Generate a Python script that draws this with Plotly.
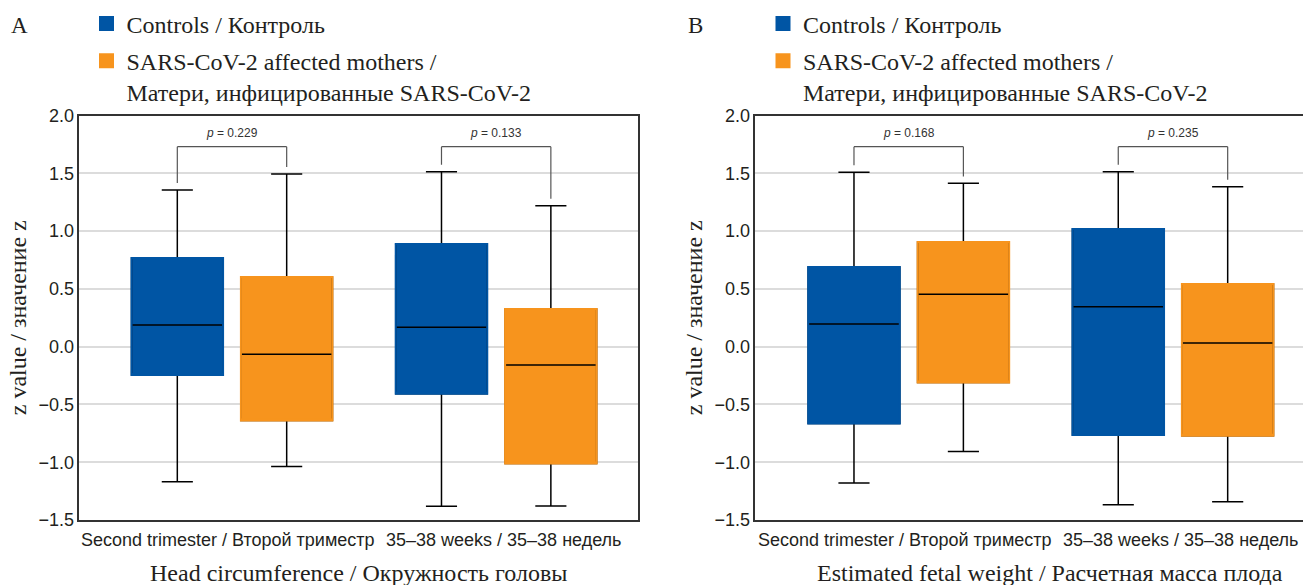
import plotly.graph_objects as go

# ---------------- data ----------------
categories = ["Second trimester / Второй триместр", "35–38 weeks / 35–38 недель"]
series_names = ["Controls / Контроль", "SARS-CoV-2 affected mothers /<br>Матери, инфицированные SARS-CoV-2"]

# Panel A: head circumference (z values)
hc_ctrl_lower = [-1.170, -1.381]
hc_ctrl_q1 = [-0.245, -0.407]
hc_ctrl_median = [0.188, 0.168]
hc_ctrl_q3 = [0.767, 0.888]
hc_ctrl_upper = [1.356, 1.514]

hc_case_lower = [-1.038, -1.378]
hc_case_q1 = [-0.640, -1.012]
hc_case_median = [-0.066, -0.158]
hc_case_q3 = [0.603, 0.326]
hc_case_upper = [1.494, 1.220]

hc_p = ["0.229", "0.133"]

# Panel B: estimated fetal weight (z values)
efw_ctrl_lower = [-1.179, -1.367]
efw_ctrl_q1 = [-0.666, -0.764]
efw_ctrl_median = [0.196, 0.346]
efw_ctrl_q3 = [0.689, 1.018]
efw_ctrl_upper = [1.509, 1.514]

efw_case_lower = [-0.908, -1.343]
efw_case_q1 = [-0.311, -0.772]
efw_case_median = [0.453, 0.032]
efw_case_q3 = [0.906, 0.542]
efw_case_upper = [1.413, 1.384]

efw_p = ["0.168", "0.235"]

y_ticks = [-1.5, -1.0, -0.5, 0.0, 0.5, 1.0, 1.5, 2.0]

# ---------------- style ----------------
BLUE = "#0055A4"
ORANGE = "#F7941D"
TXT = "#231F20"
SERIF = "Liberation Serif, Times New Roman, serif"
SANS = "Liberation Sans, Arial, sans-serif"
BOXGAP = 0.172
BOXGROUPGAP = 0.163
HALF = 0.25 * (1 - BOXGAP)   # offset of each grouped box from its category (plotly group layout)
BRACKET_LEVEL = 1.73
LEG_GAP = 0.06

fig = go.Figure()


def add_series(xa, ya, group, color, lower, q1, med, q3, upper):
    # base: whiskers + black median
    fig.add_trace(go.Box(
        x=categories, q1=q1, median=med, q3=q3, lowerfence=lower, upperfence=upper,
        fillcolor=color, line=dict(color="black", width=1.5), whiskerwidth=0.34,
        offsetgroup=group, xaxis=xa, yaxis=ya, showlegend=False, hoverinfo="skip"))
    # cover: colour the box outline
    fig.add_trace(go.Box(
        x=categories, q1=q1, median=q1, q3=q3, lowerfence=q1, upperfence=q3,
        fillcolor="rgba(0,0,0,0)", line=dict(color=color, width=2), whiskerwidth=0,
        offsetgroup=group, xaxis=xa, yaxis=ya, showlegend=False, hoverinfo="skip"))


panels = [
    ("x", "y", "legend", (hc_ctrl_lower, hc_ctrl_q1, hc_ctrl_median, hc_ctrl_q3, hc_ctrl_upper),
     (hc_case_lower, hc_case_q1, hc_case_median, hc_case_q3, hc_case_upper), hc_p),
    ("x2", "y2", "legend2", (efw_ctrl_lower, efw_ctrl_q1, efw_ctrl_median, efw_ctrl_q3, efw_ctrl_upper),
     (efw_case_lower, efw_case_q1, efw_case_median, efw_case_q3, efw_case_upper), efw_p),
]

for xa, ya, leg, ctrl, case, pvals in panels:
    add_series(xa, ya, "ctrl", BLUE, *ctrl)
    add_series(xa, ya, "case", ORANGE, *case)
    # legend entries
    for k, (name, color) in enumerate(zip(series_names, [BLUE, ORANGE])):
        fig.add_trace(go.Scatter(
            x=[None], y=[None], mode="markers", name=name, xaxis=xa, yaxis=ya, legend=leg,
            legendgroup=leg + str(k),
            marker=dict(symbol="square", size=15, color=color)))
    # significance brackets
    for i in range(len(categories)):
        xl, xr = i - HALF, i + HALF
        yl = ctrl[4][i] + LEG_GAP
        yr = case[4][i] + LEG_GAP
        for (x0, y0, x1, y1) in [(xl, yl, xl, BRACKET_LEVEL), (xl, BRACKET_LEVEL, xr, BRACKET_LEVEL),
                                 (xr, BRACKET_LEVEL, xr, yr)]:
            fig.add_shape(type="line", xref=xa, yref=ya, x0=x0, y0=y0, x1=x1, y1=y1,
                          line=dict(color="#555555", width=1.2))
        fig.add_annotation(x=i, y=BRACKET_LEVEL + 0.115, xref=xa, yref=ya, xanchor="center",
                           text="<i>p</i> = " + pvals[i], showarrow=False,
                           font=dict(family=SANS, size=12, color="#333333"))

# axes
Y_DOMAIN = [65 / 585, 469.5 / 585]
axis_common = dict(showgrid=False, zeroline=False, showline=True, linecolor="#333333", linewidth=1.5,
                   ticks="", showticklabels=False, type="category", automargin=False)
yaxis_common = dict(range=[-1.5, 2.0], tickvals=y_ticks, tickformat=".1f", showgrid=True,
                    gridcolor="#DCDCDC", gridwidth=1.5, zeroline=False, showline=True,
                    linecolor="#333333", linewidth=1.5, ticks="", automargin=False,
                    tickfont=dict(family=SANS, size=18, color=TXT),
                    title=dict(text="z value / значение z", font=dict(family=SERIF, size=24, color=TXT),
                               standoff=5))

fig.update_layout(
    width=1303, height=585, margin=dict(l=0, r=0, t=0, b=0, autoexpand=False),
    paper_bgcolor="white", plot_bgcolor="white",
    boxmode="group", boxgap=BOXGAP, boxgroupgap=BOXGROUPGAP,
    xaxis=dict(axis_common, domain=[79.3 / 1303, 638.3 / 1303], range=[-0.578, 1.538], mirror=True, anchor="y"),
    yaxis=dict(yaxis_common, domain=Y_DOMAIN, mirror=True, anchor="x"),
    xaxis2=dict(axis_common, domain=[755.4 / 1303, 1.0], range=[-0.58, 1.492], mirror=True, anchor="y2"),
    yaxis2=dict(yaxis_common, domain=Y_DOMAIN, anchor="x2"),
    legend=dict(x=86.5 / 1303, y=1.0 - 1.5 / 585, xanchor="left", yanchor="top", valign="top",
                bgcolor="rgba(0,0,0,0)", font=dict(family=SERIF, size=24, color=TXT), tracegroupgap=3),
    legend2=dict(x=763 / 1303, y=1.0 - 1.5 / 585, xanchor="left", yanchor="top", valign="top",
                 bgcolor="rgba(0,0,0,0)", font=dict(family=SERIF, size=24, color=TXT), tracegroupgap=3),
    showlegend=True,
)

# category labels (placed under each group) and panel titles
label_shift = [-4, 8]
for xa in ["x", "x2"]:
    for i, cat in enumerate(categories):
        fig.add_annotation(x=i, xref=xa, y=45 / 585, yref="paper", text=cat, showarrow=False,
                           xshift=label_shift[i], xanchor="center", yanchor="middle",
                           font=dict(family=SANS, size=18, color=TXT))

fig.add_annotation(x=358.8 / 1303, y=12 / 585, xref="paper", yref="paper", xanchor="center",
                   yanchor="middle", text="Head circumference / Окружность головы", showarrow=False,
                   font=dict(family=SERIF, size=24, color=TXT))
fig.add_annotation(x=1050 / 1303, y=12 / 585, xref="paper", yref="paper", xanchor="center",
                   yanchor="middle", text="Estimated fetal weight / Расчетная масса плода", showarrow=False,
                   font=dict(family=SERIF, size=24, color=TXT))
fig.add_annotation(x=19 / 1303, y=(585 - 26) / 585, xref="paper", yref="paper", xanchor="center",
                   yanchor="middle", text="A", showarrow=False, font=dict(family=SERIF, size=23, color=TXT))
fig.add_annotation(x=695 / 1303, y=(585 - 26) / 585, xref="paper", yref="paper", xanchor="center",
                   yanchor="middle", text="B", showarrow=False, font=dict(family=SERIF, size=23, color=TXT))

fig.write_html("out.html", config={"displayModeBar": False},
               post_script="document.body.style.margin='0';document.body.style.overflow='hidden';")
